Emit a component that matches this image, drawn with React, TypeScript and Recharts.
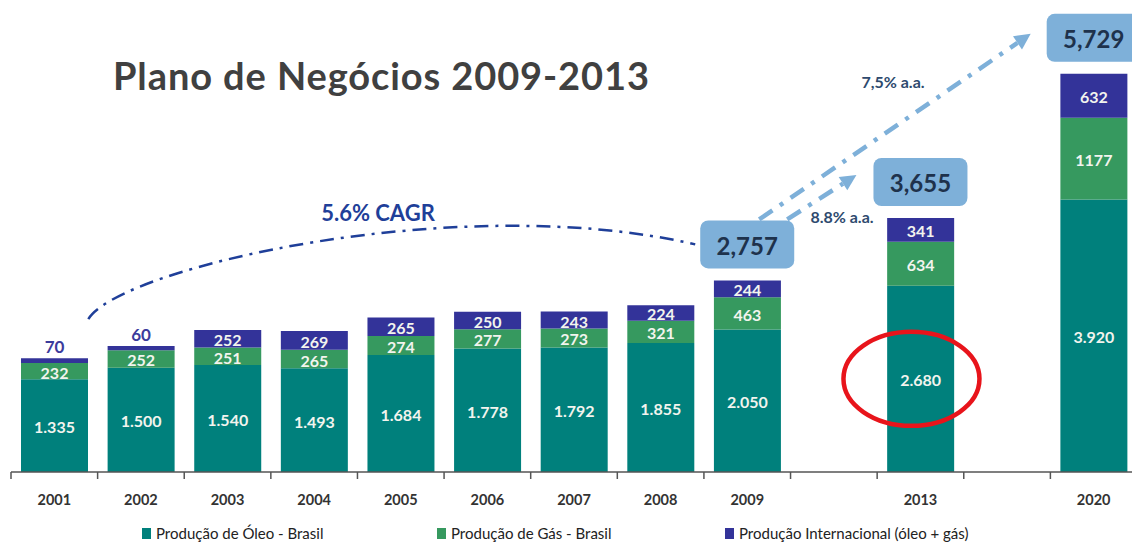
import React from 'react';
import { BarChart, Bar, XAxis, YAxis, LabelList, ReferenceDot, Customized } from 'recharts';

// ---------- data ----------
const categories = ['2001', '2002', '2003', '2004', '2005', '2006', '2007', '2008', '2009', 'gapA', '2013', 'gapB', '2020'];
const oilValues = [1335, 1500, 1540, 1493, 1684, 1778, 1792, 1855, 2050, null, 2680, null, 3920];
const gasValues = [232, 252, 251, 265, 274, 277, 273, 321, 463, null, 634, null, 1177];
const intlValues = [70, 60, 252, 269, 265, 250, 243, 224, 244, null, 341, null, 632];
const totalYears = ['2009', '2013', '2020'];
const highlightYear = '2013';
const seriesNames = ['Produção de Óleo - Brasil', 'Produção de Gás - Brasil', 'Produção Internacional (óleo + gás)'];
const titleText = 'Plano de Negócios 2009-2013';
const cagrText = '5.6% CAGR';
const rate2013Text = '8.8% a.a.';
const rate2020Text = '7,5% a.a.';

// ---------- style / layout ----------
const COLORS = { oil: '#00807C', gas: '#36995F', intl: '#333399' };
const FONT = "Lato, 'Open Sans', 'DejaVu Sans', sans-serif";
const CHART_W = 1150;
const CHART_H = 543;
const MARGIN = { top: 55, right: 13, left: 11, bottom: 41 };
const X_AXIS_H = 30;
const Y_MAX = 6000;
const PLOT_W = CHART_W - MARGIN.left - MARGIN.right;
const PLOT_H = CHART_H - MARGIN.top - MARGIN.bottom - X_AXIS_H;
const BAND = PLOT_W / categories.length;

const data = categories.map((c, i) => ({
  year: c,
  oil: oilValues[i],
  gas: gasValues[i],
  intl: intlValues[i],
  total: oilValues[i] == null ? null : (oilValues[i] as number) + (gasValues[i] as number) + (intlValues[i] as number),
}));

const xOf = (cat: string) => MARGIN.left + (categories.indexOf(cat) + 0.5) * BAND;
const yOf = (v: number) => MARGIN.top + PLOT_H * (1 - v / Y_MAX);

const fmtOil = (v: number) => v.toLocaleString('pt-BR');
const fmtPlain = (v: number) => String(v);

const makeLabel = (formatter: (v: number) => string, outsideSmall: boolean) => (props: any) => {
  const { x, y, width, height, value } = props;
  if (value == null) return null;
  const cx = x + width / 2;
  if (outsideSmall && height < 12) {
    return (
      <text x={cx} y={y - 12} textAnchor="middle" dominantBaseline="central" fill="#3B3B9C"
        fontFamily={FONT} fontWeight={700} fontSize={17}>{formatter(value)}</text>
    );
  }
  return (
    <text x={cx} y={y + height / 2 + 1} textAnchor="middle" dominantBaseline="central" fill="#F2F4EE"
      fontFamily={FONT} fontWeight={700} fontSize={16}>{formatter(value)}</text>
  );
};

const Tick = (props: any) => {
  const { x, y, payload } = props;
  const label = String(payload.value).startsWith('gap') ? '' : payload.value;
  return (
    <g>
      <line x1={x - BAND / 2} x2={x - BAND / 2} y1={y} y2={y + 7} stroke="#555" strokeWidth={1.5} />
      <text x={x} y={y + 27} textAnchor="middle" dominantBaseline="central" fill="#333"
        fontFamily={FONT} fontWeight={700} fontSize={14.5}>{label}</text>
    </g>
  );
};

const TotalBox = (props: any) => {
  const { cx, cy, value } = props;
  const w = 94, h = 48;
  const top = cy - 12 - h;
  return (
    <g>
      <rect x={cx - w / 2} y={top} width={w} height={h} rx={8} ry={8} fill="#7EB0D9" />
      <text x={cx} y={top + h / 2 + 1} textAnchor="middle" dominantBaseline="central" fill="#1E324C"
        fontFamily={FONT} fontWeight={700} fontSize={24}>{Number(value).toLocaleString('en-US')}</text>
    </g>
  );
};

const HighlightEllipse = (props: any) => {
  const { cx, cy } = props;
  return <ellipse cx={cx - 9} cy={cy} rx={68} ry={47} fill="none" stroke="#E8141B" strokeWidth={4.5} />;
};

const Arrow = ({ x1, y1, x2, y2 }: { x1: number; y1: number; x2: number; y2: number }) => {
  const dx = x2 - x1, dy = y2 - y1;
  const len = Math.sqrt(dx * dx + dy * dy);
  const ux = dx / len, uy = dy / len;
  const hl = 16, hw = 8;
  const bx = x2 - ux * hl, by = y2 - uy * hl;
  const px = -uy, py = ux;
  return (
    <g>
      <line x1={x1} y1={y1} x2={bx} y2={by} stroke="#7EB0D9" strokeWidth={4.5} strokeDasharray="16 9 4 9" />
      <polygon points={`${x2},${y2} ${bx + px * hw},${by + py * hw} ${bx - px * hw},${by - py * hw}`} fill="#7EB0D9" />
    </g>
  );
};

const Annotations = () => {
  const x2009 = xOf('2009');
  const x2013 = xOf('2013');
  const x2020 = xOf('2020');
  const total2009 = data[categories.indexOf('2009')].total as number;
  const total2013 = data[categories.indexOf('2013')].total as number;
  const total2020 = data[categories.indexOf('2020')].total as number;
  const b09 = yOf(total2009) - 12 - 48;
  const b13 = yOf(total2013) - 12 - 48;
  const b20 = yOf(total2020) - 12 - 48;
  const xs = xOf('2001') + 34;
  const ys = yOf(2200);
  const xe = x2009 - 52;
  const ye = b09 + 24;
  return (
    <g>
      <text x={113} y={75} dominantBaseline="central" fill="#404040" fontFamily={FONT} fontWeight={700} fontSize={38} letterSpacing={0.9}>{titleText}</text>
      <path d={`M ${xs} ${ys} C ${xs + 32} ${ys - 52}, 460 190, ${xe} ${ye}`} fill="none"
        stroke="#1F3F99" strokeWidth={2.5} strokeDasharray="14 7 3 7" />
      <text x={378} y={212} textAnchor="middle" dominantBaseline="central" fill="#1F3F99" fontFamily={FONT} fontWeight={700} fontSize={22}>{cagrText}</text>
      <Arrow x1={x2009 + 40} y1={b09 - 1} x2={x2013 - 64} y2={b13 + 17} />
      <Arrow x1={x2009 + 12} y1={b09 - 1} x2={x2020 - 63} y2={b20 + 20} />
      <text x={842} y={216} textAnchor="middle" dominantBaseline="central" fill="#2E4A6E" fontFamily={FONT} fontWeight={700} fontSize={16}>{rate2013Text}</text>
      <text x={893} y={81} textAnchor="middle" dominantBaseline="central" fill="#2E4A6E" fontFamily={FONT} fontWeight={700} fontSize={16}>{rate2020Text}</text>
    </g>
  );
};

const legendColors = [COLORS.oil, COLORS.gas, COLORS.intl];
const legendLeft = [142, 437, 725];

export default function App() {
  const hi = data[categories.indexOf(highlightYear)];
  return (
    <div style={{ position: 'absolute', left: 0, top: 0, width: 1132, height: 543, overflow: 'hidden', background: '#fff' }}>
      <BarChart width={CHART_W} height={CHART_H} data={data} margin={MARGIN} barSize={67}>
        <XAxis dataKey="year" height={X_AXIS_H} tickLine={false} tickSize={0} tickMargin={0}
          axisLine={{ stroke: '#555', strokeWidth: 1.5 }} tick={<Tick />} interval={0} />
        <YAxis hide domain={[0, Y_MAX]} />
        <Customized component={<Annotations />} />
        <Bar dataKey="oil" stackId="a" fill={COLORS.oil} isAnimationActive={false}>
          <LabelList dataKey="oil" content={makeLabel(fmtOil, false)} />
        </Bar>
        <Bar dataKey="gas" stackId="a" fill={COLORS.gas} isAnimationActive={false}>
          <LabelList dataKey="gas" content={makeLabel(fmtPlain, false)} />
        </Bar>
        <Bar dataKey="intl" stackId="a" fill={COLORS.intl} isAnimationActive={false}>
          <LabelList dataKey="intl" content={makeLabel(fmtPlain, true)} />
        </Bar>
        {totalYears.map((yr) => {
          const d = data[categories.indexOf(yr)];
          return (
            <ReferenceDot key={yr} x={yr} y={d.total as number} ifOverflow="visible"
              shape={(p: any) => <TotalBox {...p} value={d.total} />} />
          );
        })}
        <ReferenceDot x={highlightYear} y={(hi.oil as number) / 2} ifOverflow="visible"
          shape={(p: any) => <HighlightEllipse {...p} />} />
      </BarChart>
      {seriesNames.map((name, i) => (
        <div key={name} style={{ position: 'absolute', left: legendLeft[i], top: 525, display: 'flex', alignItems: 'center',
          fontFamily: FONT, fontSize: 15, color: '#222', whiteSpace: 'nowrap', lineHeight: '17px' }}>
          <span style={{ display: 'inline-block', width: 9, height: 11, background: legendColors[i], marginRight: 5 }} />
          {name}
        </div>
      ))}
    </div>
  );
}
